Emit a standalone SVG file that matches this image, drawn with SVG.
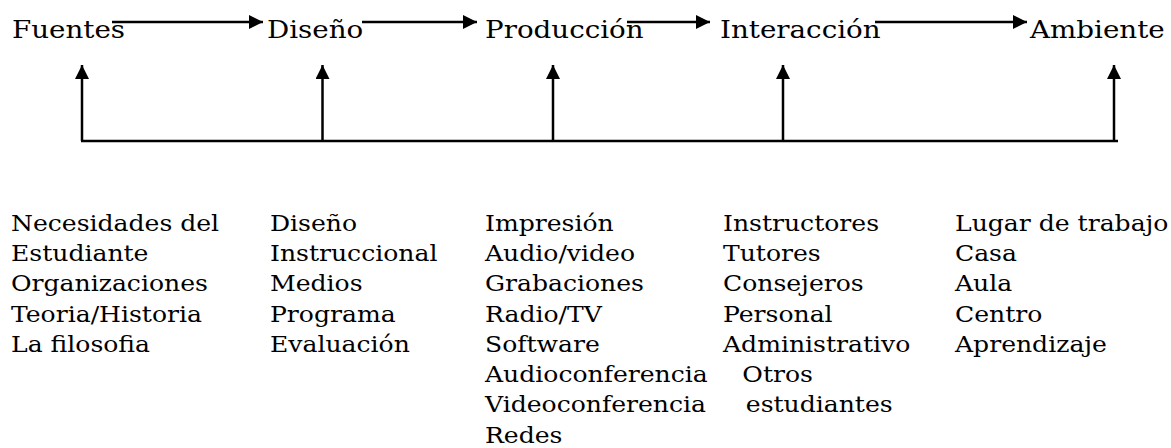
<svg xmlns="http://www.w3.org/2000/svg" width="1171" height="448" viewBox="0 0 1171 448">
<defs>
<marker id="ah" viewBox="0 0 10 10" refX="10" refY="5" markerWidth="14" markerHeight="14" markerUnits="userSpaceOnUse" orient="auto"><path d="M0,0 L10,5 L0,10 Z" fill="#000"/></marker>
</defs>
<style>
text{font-family:"DejaVu Serif","Liberation Serif",serif;fill:#000}
.h{font-size:23.5px}
.l{font-size:22px}
.c{stroke:#000;stroke-width:2.5;fill:none}
</style>
<rect width="1171" height="448" fill="#fff"/>
<g id="n-fuentes" transform="translate(12,38) scale(1.18,1)"><text class="h">Fuentes</text></g>
<g id="n-diseno" transform="translate(267,38) scale(1.18,1)"><text class="h">Diseño</text></g>
<g id="n-produccion" transform="translate(485,38) scale(1.18,1)"><text class="h">Producción</text></g>
<g id="n-interaccion" transform="translate(720,38) scale(1.18,1)"><text class="h">Interacción</text></g>
<g id="n-ambiente" transform="translate(1030,38) scale(1.18,1)"><text class="h">Ambiente</text></g>
<g id="connectors">
<line class="c" x1="112" y1="22" x2="263" y2="22" marker-end="url(#ah)"/>
<line class="c" x1="362" y1="22" x2="477" y2="22" marker-end="url(#ah)"/>
<line class="c" x1="627" y1="22" x2="710" y2="22" marker-end="url(#ah)"/>
<line class="c" x1="875" y1="22" x2="1027" y2="22" marker-end="url(#ah)"/>
<line class="c" x1="81" y1="141" x2="1118" y2="141"/>
<line class="c" x1="82" y1="141" x2="82" y2="65" marker-end="url(#ah)"/>
<line class="c" x1="322.5" y1="141" x2="322.5" y2="65" marker-end="url(#ah)"/>
<line class="c" x1="553" y1="141" x2="553" y2="65" marker-end="url(#ah)"/>
<line class="c" x1="783" y1="141" x2="783" y2="65" marker-end="url(#ah)"/>
<line class="c" x1="1114" y1="141" x2="1114" y2="65" marker-end="url(#ah)"/>
</g>
<g id="list-fuentes" transform="translate(11,0) scale(1.14,1)">
<text class="l" y="231">Necesidades del</text>
<text class="l" y="261">Estudiante</text>
<text class="l" y="291">Organizaciones</text>
<text class="l" y="322">Teoria/Historia</text>
<text class="l" y="352">La filosofia</text>
</g>
<g id="list-diseno" transform="translate(270,0) scale(1.14,1)">
<text class="l" y="231">Diseño</text>
<text class="l" y="261">Instruccional</text>
<text class="l" y="291">Medios</text>
<text class="l" y="322">Programa</text>
<text class="l" y="352">Evaluación</text>
</g>
<g id="list-produccion" transform="translate(485,0) scale(1.14,1)">
<text class="l" y="231">Impresión</text>
<text class="l" y="261">Audio/video</text>
<text class="l" y="291">Grabaciones</text>
<text class="l" y="322">Radio/TV</text>
<text class="l" y="352">Software</text>
<text class="l" y="382">Audioconferencia</text>
<text class="l" y="412">Videoconferencia</text>
<text class="l" y="443">Redes</text>
</g>
<g id="list-interaccion" transform="translate(723,0) scale(1.14,1)">
<text class="l" y="231">Instructores</text>
<text class="l" y="261">Tutores</text>
<text class="l" y="291">Consejeros</text>
<text class="l" y="322">Personal</text>
<text class="l" y="352">Administrativo</text>
<text class="l" x="17" y="382">Otros</text>
<text class="l" x="20" y="412">estudiantes</text>
</g>
<g id="list-ambiente" transform="translate(955,0) scale(1.14,1)">
<text class="l" y="231">Lugar de trabajo</text>
<text class="l" y="261">Casa</text>
<text class="l" y="291">Aula</text>
<text class="l" y="322">Centro</text>
<text class="l" y="352">Aprendizaje</text>
</g>
</svg>
